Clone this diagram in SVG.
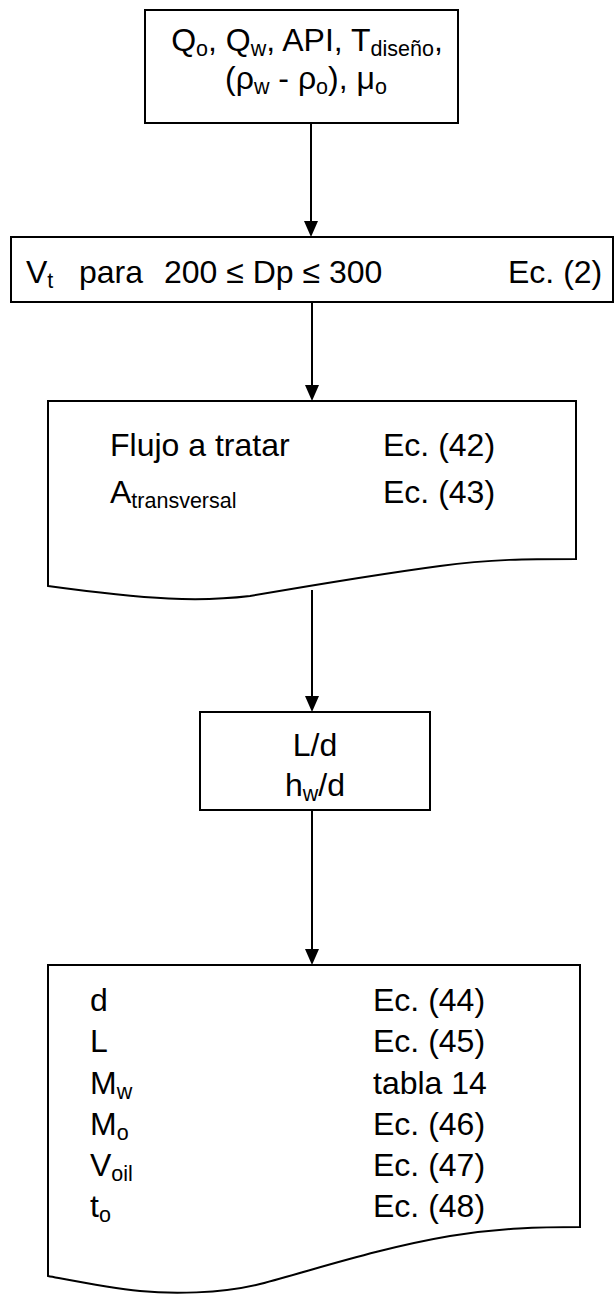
<svg xmlns="http://www.w3.org/2000/svg" width="616" height="1295" viewBox="0 0 616 1295">
<defs>
<style>
.box{fill:#fff;stroke:#000;stroke-width:2}
.t{font-family:"Liberation Sans",Arial,sans-serif;font-size:32px;fill:#000}
.s{font-size:21.5px}
.con{stroke:#000;stroke-width:2;fill:none}
.ah{fill:#000}
</style>
</defs>
<g id="connectors">
<line class="con" x1="311" y1="123" x2="311" y2="222"/>
<line class="con" x1="312" y1="302" x2="312" y2="386"/>
<line class="con" x1="312" y1="590" x2="312" y2="697"/>
<line class="con" x1="312" y1="810" x2="312" y2="950"/>
<path class="ah" d="M304,221 L318,221 L311,237 Z"/>
<path class="ah" d="M305,385 L319,385 L312,401 Z"/>
<path class="ah" d="M305,696 L319,696 L312,712 Z"/>
<path class="ah" d="M305,949 L319,949 L312,965 Z"/>
</g>
<g id="n1">
<rect class="box" x="145" y="10" width="313" height="113"/>
<text class="t" x="307" y="51" text-anchor="middle">Q<tspan class="s" dy="5">o</tspan><tspan dy="-5">, Q</tspan><tspan class="s" dy="5">w</tspan><tspan dy="-5">, API, T</tspan><tspan class="s" dy="5">diseño</tspan><tspan dy="-5">,</tspan></text>
<text class="t" x="306" y="89" text-anchor="middle">(ρ<tspan class="s" dy="5">w</tspan><tspan dy="-5"> - ρ</tspan><tspan class="s" dy="5">o</tspan><tspan dy="-5">), μ</tspan><tspan class="s" dy="5">o</tspan></text>
</g>
<g id="n2">
<rect class="box" x="11" y="237" width="602" height="65"/>
<text class="t" x="26" y="283">V<tspan class="s" dy="5">t</tspan></text>
<text class="t" x="79" y="283">para</text>
<text class="t" x="164" y="283">200 ≤ Dp ≤ 300</text>
<text class="t" x="508" y="283">Ec. (2)</text>
</g>
<g id="n3">
<path class="box" d="M48,401 H576 V559 C530,559 490,559 440,566 C380,574 320,584 250,596 C200,602 150,600 48,586 Z"/>
<text class="t" x="110" y="456">Flujo a tratar</text>
<text class="t" x="383" y="456">Ec. (42)</text>
<text class="t" x="110" y="503">A<tspan class="s" dy="5">transversal</tspan></text>
<text class="t" x="383" y="503">Ec. (43)</text>
</g>
<g id="n4">
<rect class="box" x="200" y="712" width="230" height="98"/>
<text class="t" x="315" y="756" text-anchor="middle">L/d</text>
<text class="t" x="315" y="796" text-anchor="middle">h<tspan class="s" dy="5">w</tspan><tspan dy="-5">/d</tspan></text>
</g>
<g id="n5">
<path class="box" d="M48,965 H580 V1227 C540,1227 500,1228 450,1236 C380,1248 320,1268 260,1284 C220,1294 170,1294 140,1291 C110,1288 80,1282 48,1276 Z"/>
<text class="t" x="90" y="1011">d</text>
<text class="t" x="373" y="1011">Ec. (44)</text>
<text class="t" x="90" y="1052">L</text>
<text class="t" x="373" y="1052">Ec. (45)</text>
<text class="t" x="90" y="1094">M<tspan class="s" dy="5">w</tspan></text>
<text class="t" x="373" y="1094">tabla 14</text>
<text class="t" x="90" y="1135">M<tspan class="s" dy="5">o</tspan></text>
<text class="t" x="373" y="1135">Ec. (46)</text>
<text class="t" x="90" y="1176">V<tspan class="s" dy="5">oil</tspan></text>
<text class="t" x="373" y="1176">Ec. (47)</text>
<text class="t" x="90" y="1217">t<tspan class="s" dy="5">o</tspan></text>
<text class="t" x="373" y="1217">Ec. (48)</text>
</g>
</svg>
